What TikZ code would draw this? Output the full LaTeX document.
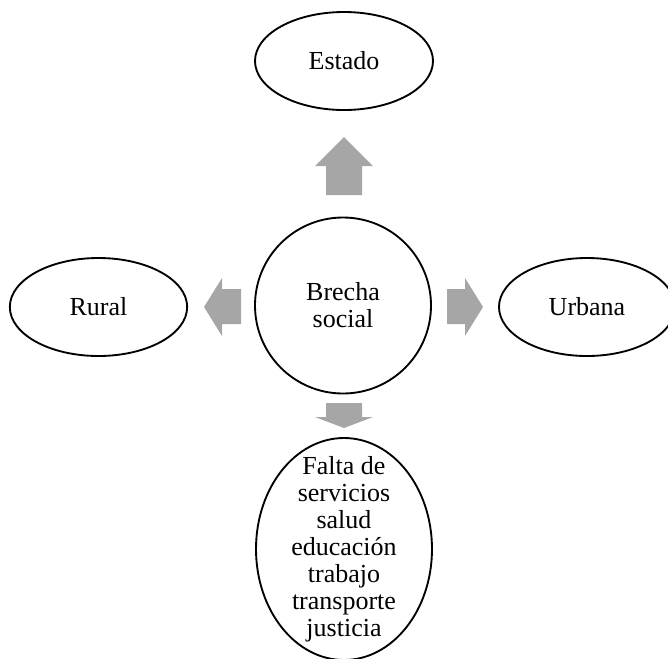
\documentclass[tikz,border=0pt]{standalone}
\usepackage{fontspec}
\setmainfont{Liberation Serif}
\usepackage{xcolor}
\usetikzlibrary{shapes.geometric}
\definecolor{grisflecha}{RGB}{166,166,166}

\begin{document}
\begin{tikzpicture}[x=0.75pt,y=-0.75pt,
		burbuja/.style={draw,ellipse,line width=1.4pt,inner sep=0pt},
		texto/.style={font=\fontsize{19.5}{20.3}\selectfont,align=center},
		flecha/.style={fill=grisflecha}]
		\useasboundingbox (0,0) rectangle (668,658);
		\node[burbuja,texto,minimum width=133.5pt,minimum height=73.5pt] (estado) at (344,61) {Estado};
		\node[burbuja,texto,minimum width=133pt,minimum height=73.5pt] (rural) at (98.5,307) {Rural};
		\node[burbuja,texto,minimum width=132pt,minimum height=73.5pt] (urbana) at (587,307) {Urbana};
		\node[burbuja,circle,texto,minimum size=132pt] (brecha) at (343,305.5) {Brecha\\social};
		\node[burbuja,minimum width=132pt,minimum height=166.5pt] (falta) at (344,549) {};
		\node[texto] (faltatexto) at (falta.center) {Falta de\\servicios\\salud\\educación\\trabajo\\transporte\\justicia};
		% flechas grises
		\fill[flecha] (326,195) -- (326,166) -- (315,166) -- (344,137) -- (373,166) -- (362,166) -- (362,195) -- cycle;
		\fill[flecha] (241,289) -- (222,289) -- (222,278) -- (204,307) -- (222,336) -- (222,324) -- (241,324) -- cycle;
		\fill[flecha] (447,289) -- (465,289) -- (465,278) -- (483,307) -- (465,336) -- (465,324) -- (447,324) -- cycle;
		\fill[flecha] (326,403) -- (362,403) -- (362,417) -- (373,417) -- (344,428) -- (315,417) -- (326,417) -- cycle;
	\end{tikzpicture}
\end{document}
